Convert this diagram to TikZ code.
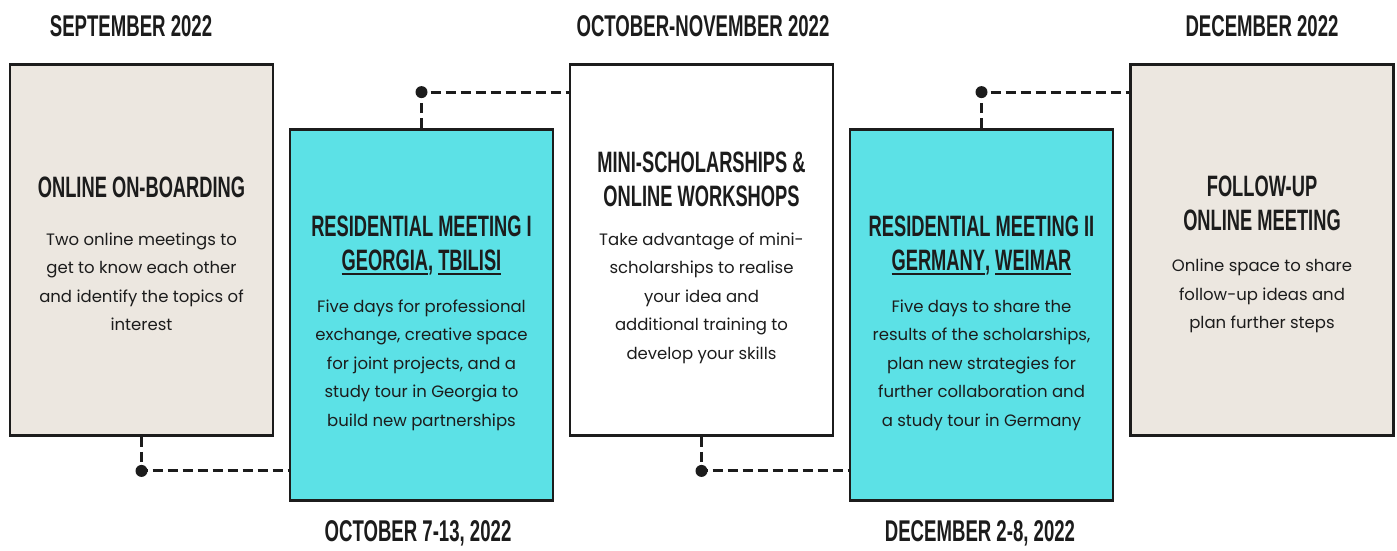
\documentclass[tikz,border=0pt]{standalone}
\usepackage{fontspec}
\setmainfont{Poppins}
\newfontfamily\headfont[FakeStretch=0.62]{Liberation Sans Bold}
\usetikzlibrary{positioning,calc}

\definecolor{sand}{HTML}{ECE7E0}
\definecolor{aqua}{HTML}{5CE1E6}
\definecolor{ink}{HTML}{1C1C1C}

% underline one word
\newcommand{\ulword}[1]{\setbox0\hbox{#1}\leavevmode\rlap{\rule[-4pt]{\wd0}{2pt}}\box0}

\tikzset{
    stage/.style={draw=ink, line width=2.8pt, minimum width=263pt, minimum height=371pt, inner sep=0pt},
    when/.style={font=\headfont\fontsize{30}{34}\selectfont, text=ink},
    heading/.style={font=\headfont\fontsize{29.5}{34}\selectfont, align=center, text=ink},
    blurb/.style={font=\fontsize{16.5}{28.5}\selectfont, align=center, text=ink},
    link/.style={line width=3pt, dash pattern=on 10pt off 5pt, draw=ink},
    dot/.style={fill=ink}
}

\begin{document}
\begin{tikzpicture}[x=1pt, y=-1pt]
    \useasboundingbox (0, 0) rectangle (1397, 550);

    % stages
    \node[stage, fill=sand] (b1) at (141.5, 250) {};
    \node[stage, fill=aqua] (b2) at (421.5, 315) {};
    \node[stage, fill=white] (b3) at (701.5, 250) {};
    \node[stage, fill=aqua] (b4) at (981.5, 315) {};
    \node[stage, fill=sand] (b5) at (1262, 250) {};

    % dates
    \node[when] (d1) at (131, 26) {SEPTEMBER 2022};
    \node[when] (d2) at (703, 26) {OCTOBER-NOVEMBER 2022};
    \node[when] (d3) at (1262, 26) {DECEMBER 2022};
    \node[when] (d4) at (418, 533) {OCTOBER 7-13, 2022};
    \node[when] (d5) at (980, 533) {DECEMBER 2-8, 2022};

    % titles
    \node[heading] (t1) at (141.5, 187) {ONLINE ON-BOARDING};
    \node[heading] (t2) at (421.5, 245.5) {RESIDENTIAL MEETING I\\\ulword{GEORGIA}, \ulword{TBILISI}};
    \node[heading] (t3) at (701.5, 179.5) {MINI-SCHOLARSHIPS \&\\ONLINE WORKSHOPS};
    \node[heading] (t4) at (981.5, 245.5) {RESIDENTIAL MEETING II\\\ulword{GERMANY}, \ulword{WEIMAR}};
    \node[heading] (t5) at (1262, 203.5) {FOLLOW-UP\\ONLINE MEETING};

    % descriptions
    \node[blurb] (p1) at (141.5, 282) {Two online meetings to\\get to know each other\\and identify the topics of\\interest};
    \node[blurb] (p2) at (421.5, 365) {Five days for professional\\exchange, creative space\\for joint projects, and a\\study tour in Georgia to\\build new partnerships};
    \node[blurb] (p3) at (701.5, 298) {Take advantage of mini-\\scholarships to realise\\your idea and\\additional training to\\develop your skills};
    \node[blurb] (p4) at (981.5, 365) {Five days to share the\\results of the scholarships,\\plan new strategies for\\further collaboration and\\a study tour in Germany};
    \node[blurb] (p5) at (1262, 296) {Online space to share\\follow-up ideas and\\plan further steps};

    % links
    \coordinate (j1) at ($(b1.south) + (0, 34)$);
    \coordinate (j2) at ($(b2.north) + (0, -36)$);
    \coordinate (j3) at ($(b3.south) + (0, 34)$);
    \coordinate (j4) at ($(b4.north) + (0, -36)$);

    \draw[link] (b1.south) -- (j1) -- (j1 -| b2.west);
    \draw[link] (b2.north) -- (j2) -- (j2 -| b3.west);
    \draw[link] (b3.south) -- (j3) -- (j3 -| b4.west);
    \draw[link] (b4.north) -- (j4) -- (j4 -| b5.west);

    \foreach \j in {j1, j2, j3, j4} {
        \fill[dot] (\j) circle (6pt);
    }
\end{tikzpicture}
\end{document}
